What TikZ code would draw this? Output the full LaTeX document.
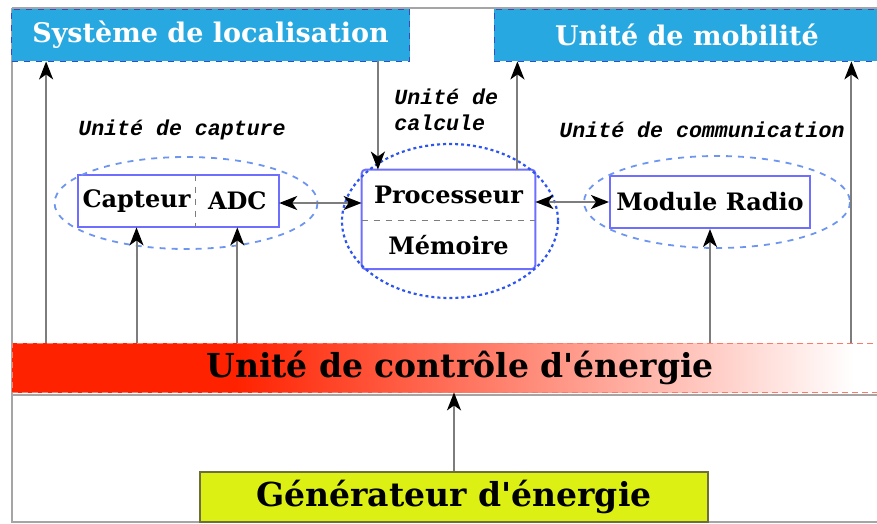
\documentclass[tikz,border=0pt]{standalone}
\usepackage{fontspec}
\setmainfont{DejaVu Serif}
\setmonofont{Liberation Mono}
\usetikzlibrary{arrows.meta,positioning}

\definecolor{locblue}{RGB}{40,168,224}
\definecolor{edgeblue}{RGB}{55,75,190}
\definecolor{boxblue}{RGB}{110,110,255}
\definecolor{ringblue}{RGB}{110,150,240}
\definecolor{procring}{RGB}{45,85,240}
\definecolor{ered}{RGB}{255,34,0}
\definecolor{genyellow}{RGB}{221,240,20}
\definecolor{genedge}{RGB}{110,110,60}
\definecolor{shaft}{RGB}{125,125,125}
\definecolor{framegray}{RGB}{165,165,165}

\pgfdeclarehorizontalshading{energyfade}{100bp}{color(0bp)=(ered); color(37.5bp)=(ered); color(72bp)=(white); color(100bp)=(white)}

\begin{document}
\begin{tikzpicture}[x=0.5pt, y=-0.5pt,
    unit/.style={draw=edgeblue, dashed, fill=locblue, text=white, inner sep=0pt,
        minimum height=26pt, font=\fontsize{13.5}{15}\bfseries\selectfont},
    part/.style={inner sep=0pt, minimum height=26pt, font=\fontsize{12}{14}\bfseries\selectfont},
    tag/.style={inner sep=0pt, font=\fontsize{10.8}{13}\ttfamily\bfseries\itshape\selectfont},
    flow/.style={-{Stealth[length=9pt, width=7pt, inset=2.5pt, color=black]}, draw=shaft, line width=1pt},
    flowboth/.style={{Stealth[length=9pt, width=7pt, inset=2.5pt, color=black]}-{Stealth[length=9pt, width=7pt, inset=2.5pt, color=black]},
        draw=shaft, line width=1pt},
    boxline/.style={draw=boxblue, line width=1pt},
    ring/.style={draw=ringblue, line width=0.9pt, dash pattern=on 3pt off 3pt},
    frame/.style={draw=framegray, line width=1pt}]
    \useasboundingbox (0,0) rectangle (877,524);

    % Frame
    \draw[frame] (12,8) -- (877,8);
    \draw[frame] (12,8) -- (12,522) -- (877,522);
    \draw[frame] (12,395) -- (877,395);

    % Top units
    \node[unit, minimum width=199pt] (Loc) at (210.5,35) {Système de localisation};
    \node[unit, minimum width=193pt] (Mob) at (687,35) {Unité de mobilité};

    % Energy
    \node[draw=ered!60, dash pattern=on 3pt off 2pt, shading=energyfade, inner sep=0pt,
        minimum width=448pt, minimum height=24.5pt,
        font=\fontsize{16.5}{18}\bfseries\selectfont] (Energy) at (460,367.5) {Unité de contrôle d\textquotesingle énergie};
    \node[draw=genedge, fill=genyellow, line width=1pt, inner sep=0pt,
        minimum width=254pt, minimum height=25pt,
        font=\fontsize{16.5}{19}\bfseries\selectfont] (Gen) at (454,497) {Générateur d\textquotesingle énergie};

    % Capture
    \node[part, minimum width=58.5pt] (Capteur) at (136.5,201) {Capteur};
    \node[part, minimum width=41.5pt, right=0pt of Capteur] (ADC) {ADC};
    \draw[boxline] (Capteur.north west) rectangle (ADC.south east);
    \draw[draw=shaft, dashed, line width=0.8pt] (Capteur.north east) -- (Capteur.south east);
    \draw[ring] (186,203) ellipse [x radius=131.5, y radius=46];
    \node[tag] (CapLbl) at (182,130) {Unité de capture};

    % Calcul
    \node[part, minimum width=86.5pt, minimum height=25pt] (Proc) at (448.5,195) {Processeur};
    \node[part, minimum width=86.5pt, minimum height=24pt, below=0pt of Proc] (Mem) {Mémoire};
    \draw[boxline, rounded corners=2pt] (Proc.north west) rectangle (Mem.south east);
    \draw[draw=shaft, dashed, line width=0.8pt] (Proc.south west) -- (Proc.south east);
    \draw[draw=procring, line width=1.1pt, dash pattern=on 1.5pt off 1.5pt] (450,221) ellipse [x radius=108, y radius=77];
    \node[tag, align=left, anchor=west] (CalcLbl) at (394,110) {Unité de\\calcule};

    % Communication
    \node[part, minimum width=100pt, draw=boxblue, line width=1pt] (Module) at (710,202) {Module Radio};
    \draw[ring] (717,202) ellipse [x radius=133, y radius=46];
    \node[tag] (ComLbl) at (702,130) {Unité de communication};

    % Arrows
    \coordinate (locL) at ([xshift=17.5pt]Loc.south west);
    \coordinate (locR) at ([xshift=-16pt]Loc.south east);
    \coordinate (procR) at ([xshift=-9pt]Proc.north east);
    \coordinate (mobR) at ([xshift=-14.5pt]Mob.south east);
    \draw[flow] (locL |- Energy.north) -- (locL);
    \draw[flow] (locR) -- (locR |- Proc.north);
    \draw[flow] (procR) -- (procR |- Mob.south);
    \draw[flow] (mobR |- Energy.north) -- (mobR);
    \draw[flow] (Capteur.south |- Energy.north) -- (Capteur.south);
    \draw[flow] (ADC.south |- Energy.north) -- (ADC.south);
    \draw[flow] (Module.south |- Energy.north) -- (Module.south);
    \draw[flow] (Gen.north) -- (Gen.north |- Energy.south);
    \draw[flowboth] ([yshift=-1pt]ADC.east) -- ([yshift=-1pt]Proc.west |- ADC.east);
    \draw[flowboth] (Proc.east |- Module.west) -- (Module.west);
\end{tikzpicture}
\end{document}
